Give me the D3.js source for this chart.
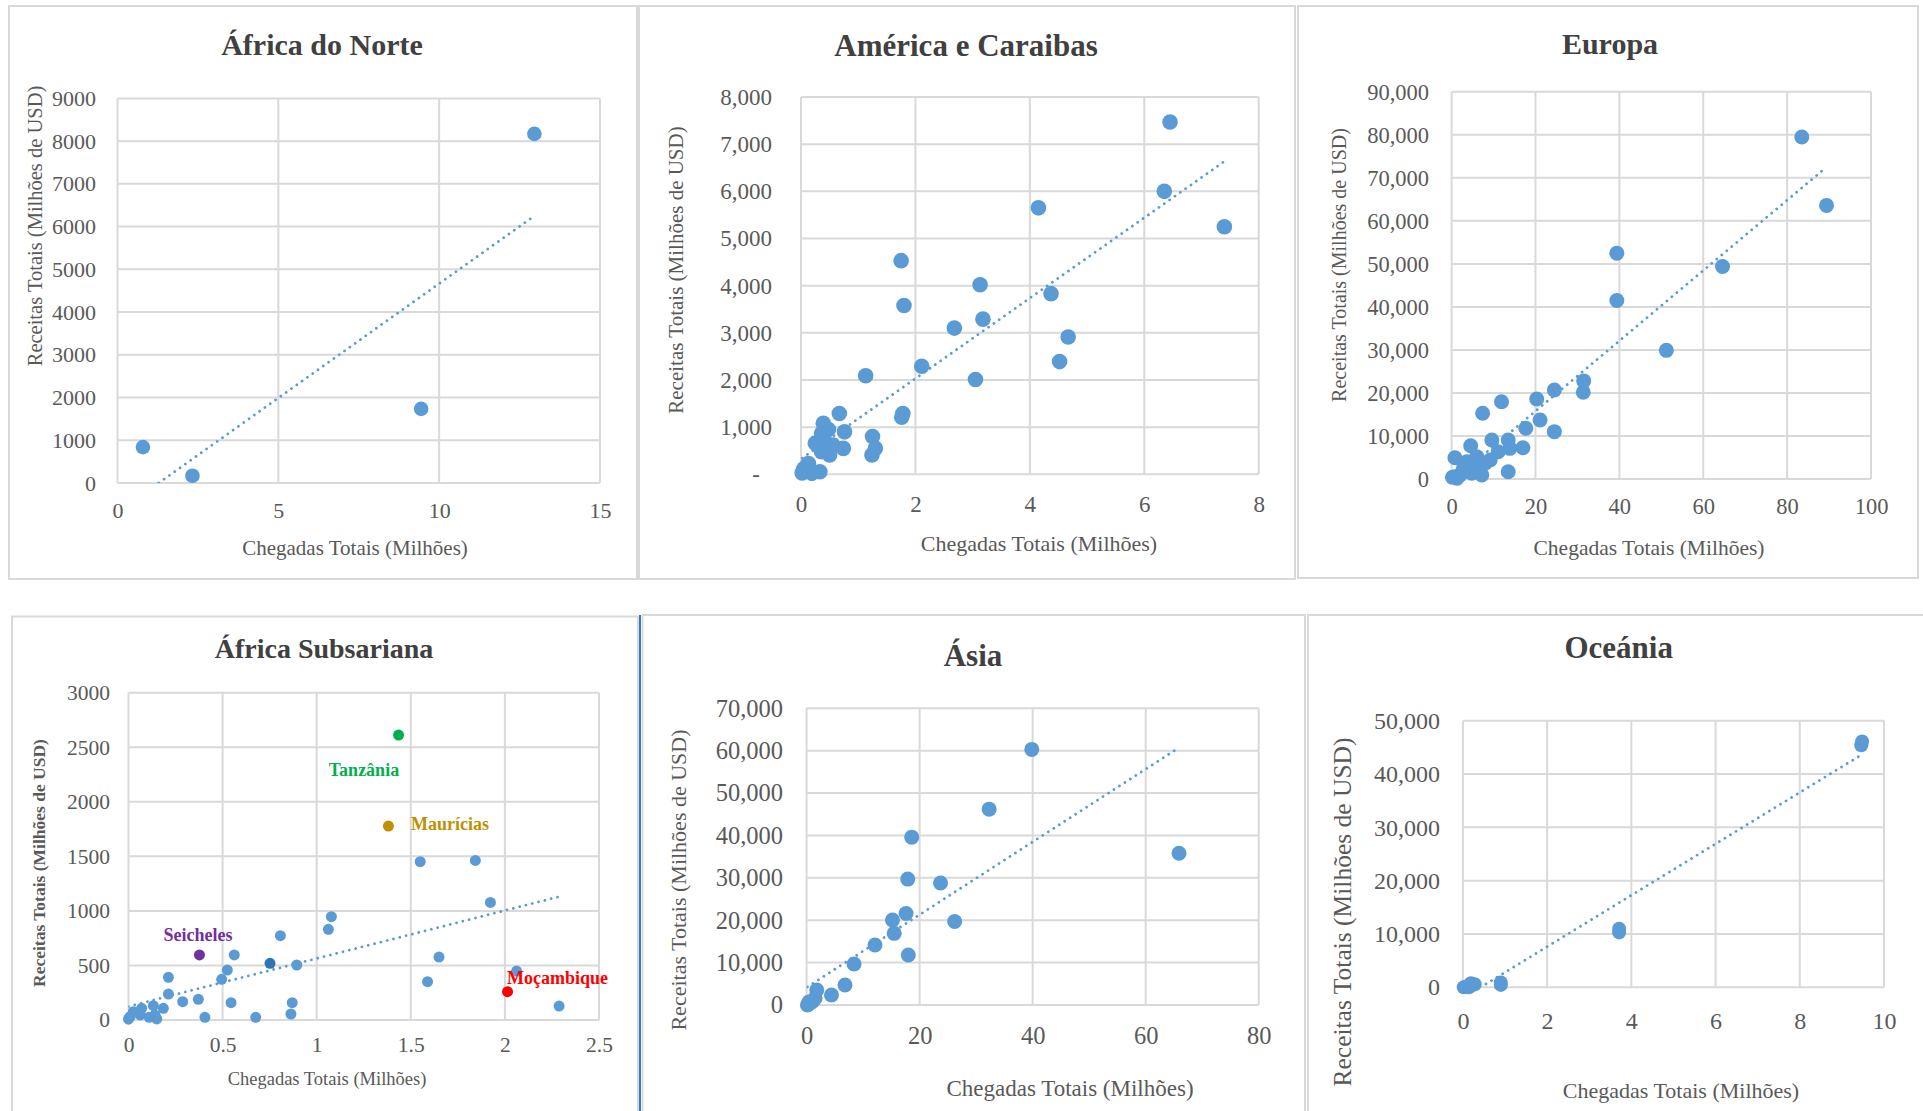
<!DOCTYPE html>
<html>
<head>
<meta charset="utf-8">
<style>
  html, body { margin: 0; padding: 0; background: #fff; overflow: hidden; }
  svg { display: block; font-family: "Liberation Serif", "Times New Roman", serif; }
  .frame { fill: #fff; stroke: #d9d9d9; stroke-width: 2px; }
  .grid line { stroke: #d9d9d9; stroke-width: 2px; }
  .trend { fill: none; stroke: #5b9bd5; stroke-width: 2.8px; stroke-linecap: round; stroke-dasharray: 0.01 6.5; }
</style>
</head>
<body>
<svg id="chart" width="1923" height="1111"></svg>
<script src="https://d3js.org/d3.v7.min.js"></script>
<script>
// ---- data ----
const regionTitles = ["África do Norte", "América e Caraibas", "Europa", "África Subsariana", "Ásia", "Oceánia"];
const xTitleText = "Chegadas Totais (Milhões)";
const yTitleText = "Receitas Totais (Milhões de USD)";

const norteXTicks = [0, 5, 10, 15];
const norteYTicks = [0, 1000, 2000, 3000, 4000, 5000, 6000, 7000, 8000, 9000];
const norteData = [[0.79, 840], [2.33, 170], [9.44, 1735], [12.96, 8170]];

const americaXTicks = [0, 2, 4, 6, 8];
const americaYTicks = [0, 1000, 2000, 3000, 4000, 5000, 6000, 7000, 8000];
const americaData = [
  [6.45, 7470], [6.35, 6000], [7.40, 5250], [4.15, 5650], [1.75, 4530], [3.13, 4020],
  [4.37, 3830], [1.80, 3580], [3.18, 3290], [2.68, 3100], [4.67, 2910], [4.52, 2390],
  [2.11, 2290], [1.13, 2090], [3.05, 2010], [1.78, 1290], [1.76, 1210],
  [0.67, 1290], [0.39, 1080], [0.76, 900], [0.36, 870], [0.25, 660], [0.42, 690],
  [0.36, 480], [0.74, 550], [0.56, 620], [0.50, 410], [1.25, 800], [1.30, 550],
  [1.24, 410], [0.02, 30], [0.13, 230], [0.33, 55], [0.19, 20], [0.05, 120], [0.48, 950]
];

const europaXTicks = [0, 20, 40, 60, 80, 100];
const europaYTicks = [0, 10000, 20000, 30000, 40000, 50000, 60000, 70000, 80000, 90000];
const europaData = [
  [83.5, 79500], [89.4, 63600], [39.4, 52500], [64.6, 49400], [39.4, 41500], [51.2, 29900],
  [31.5, 22800], [31.4, 20150], [24.5, 20680], [20.3, 18590], [11.9, 17965], [7.4, 15270],
  [21.1, 13710], [17.7, 11780], [24.5, 11000], [9.6, 9060], [13.5, 9060], [4.55, 7740],
  [13.9, 7130], [17.0, 7280], [11.1, 6350], [9.2, 4420], [0.8, 4950], [6.0, 5190],
  [3.6, 4020], [13.5, 1700], [7.2, 930], [0.8, 540], [2.8, 2490], [5.2, 2860],
  [6.4, 2090], [2.0, 930], [4.8, 1320], [8.0, 3650], [0.2, 400], [1.3, 200]
];

const subsaharaXTicks = [0, 0.5, 1, 1.5, 2, 2.5];
const subsaharaYTicks = [0, 500, 1000, 1500, 2000, 2500, 3000];
const subsaharaData = [
  [1.550, 1451], [1.843, 1463], [1.923, 1078], [2.062, 449], [2.288, 128], [1.650, 577],
  [1.589, 351], [1.078, 947], [1.062, 831], [0.807, 773], [0.562, 596], [0.894, 504],
  [0.525, 458], [0.495, 373], [0.212, 391], [0.212, 238], [0.288, 168], [0.371, 190],
  [0.545, 159], [0.870, 159], [0.863, 55], [0.676, 25], [0.406, 25], [0.185, 107],
  [0.132, 131], [0.141, 46], [0.070, 107], [0.026, 76], [0.008, 30], [0.062, 46],
  [0.000, 8], [0.110, 25], [0.150, 10]
];
const destaqueNomes = ["Tanzânia", "Maurícias", "Seicheles", "Moçambique", ""];
const destaqueData = [[1.435, 2612], [1.381, 1778], [0.377, 596], [2.014, 260], [0.752, 520]];

const asiaXTicks = [0, 20, 40, 60, 80];
const asiaYTicks = [0, 10000, 20000, 30000, 40000, 50000, 60000, 70000];
const asiaData = [
  [39.85, 60300], [32.3, 46200], [65.9, 35800], [18.6, 39600], [17.9, 29700], [23.7, 28800],
  [17.6, 21600], [26.2, 19700], [15.2, 20050], [15.5, 16900], [12.1, 14150], [18.0, 11800],
  [8.4, 9670], [6.8, 4720], [4.4, 2360], [1.8, 3540], [1.5, 1580], [0.6, 400],
  [0.4, 700], [0.15, 0], [1.1, 900]
];

const oceaniaXTicks = [0, 2, 4, 6, 8, 10];
const oceaniaYTicks = [0, 10000, 20000, 30000, 40000, 50000];
const oceaniaData = [
  [9.48, 46100], [9.46, 45400], [3.71, 11000], [3.71, 10300], [0.90, 900], [0.90, 450],
  [0.24, 450], [0.14, 0], [0.02, 0], [0.075, 130], [0.19, 750], [0.28, 560]
];

// ---- layout (full-size pixel positions) ----
const layout = [
  { box: [9, 6, 637, 579], plot: [117.5, 98.4, 600, 483], head: [322, 55, 30], yTitle: [35, 226, 20.5], xTitle: [355, 548, 21], tick: 22, yPad: 21.5, xPad: 19.5, r: 7.3 },
  { box: [639, 6, 1295, 579], plot: [801, 97, 1258.7, 474.3], head: [966, 55.5, 31], yTitle: [676, 270, 21], xTitle: [1039, 543, 22], tick: 23, yPad: 29, xPad: 21, r: 7.8 },
  { box: [1298, 6, 1918, 578], plot: [1451.6, 91.8, 1871, 479], head: [1610, 53.7, 30], yTitle: [1339, 265, 20], xTitle: [1649, 547, 21.5], tick: 22.5, yPad: 22.5, xPad: 19.5, r: 7.5 },
  { box: [12, 616.5, 638, 1125], plot: [128.5, 692.7, 599, 1020], head: [324, 658.3, 28], yTitle: [38.8, 863, 17.5, "bold"], xTitle: [327, 1079, 18.5], tick: 21.5, yPad: 18.5, xPad: 17, r: 5.5 },
  { box: [642.5, 615, 1305, 1125], plot: [806.6, 708.3, 1258.7, 1005], head: [973, 666, 31], yTitle: [678.5, 880, 22], xTitle: [1070, 1088, 23], tick: 24.5, yPad: 23.5, xPad: 22, r: 7.5 },
  { box: [1308, 615, 1935, 1125], plot: [1462.9, 720.7, 1884, 987.3], head: [1618.7, 658.3, 31], yTitle: [1341.7, 912, 25.5], xTitle: [1681, 1090, 22], tick: 24, yPad: 23, xPad: 24.5, r: 7 }
];

// label colours / offsets for the highlighted Subsaharan countries
const destaqueCores = ["#00b050", "#bf9000", "#7030a0", "#ff0000", "#2e75b6"];
const destaqueLabelPos = [[-34.6, 35, "middle"], [22.6, -2.7, "start"], [-1.5, -20.7, "middle"], [-0.5, -14, "start"], [0, 0, "start"]];

const comma = d3.format(",");
const panels = [
  { title: regionTitles[0], data: norteData, xTicks: norteXTicks, yTicks: norteYTicks, yFmt: d3.format("d") },
  { title: regionTitles[1], data: americaData, xTicks: americaXTicks, yTicks: americaYTicks, yFmt: d => d === 0 ? "-" : comma(d), dashZero: true },
  { title: regionTitles[2], data: europaData, xTicks: europaXTicks, yTicks: europaYTicks, yFmt: comma },
  { title: regionTitles[3], data: subsaharaData, xTicks: subsaharaXTicks, yTicks: subsaharaYTicks, yFmt: d3.format("d"), extra: destaqueData },
  { title: regionTitles[4], data: asiaData, xTicks: asiaXTicks, yTicks: asiaYTicks, yFmt: comma },
  { title: regionTitles[5], data: oceaniaData, xTicks: oceaniaXTicks, yTicks: oceaniaYTicks, yFmt: comma }
].map((p, i) => Object.assign(p, layout[i]));

const svg = d3.select("#chart");
const defs = svg.append("defs");

panels.forEach(drawPanel);

// the little blue cursor bar between the lower panels
svg.append("line")
  .attr("x1", 640).attr("x2", 640)
  .attr("y1", 615).attr("y2", 1111)
  .attr("stroke", "#3a78c0")
  .attr("stroke-width", 2);

function fit(pts) {
  var mx = d3.mean(pts, d => d[0]), my = d3.mean(pts, d => d[1]);
  var sxy = d3.sum(pts, d => (d[0] - mx) * (d[1] - my));
  var sxx = d3.sum(pts, d => (d[0] - mx) * (d[0] - mx));
  var b = sxy / sxx;
  return [b, my - b * mx];
}

function drawPanel(p, i) {
  var [x0, y0, x1, y1] = p.plot;
  var x = d3.scaleLinear().domain(d3.extent(p.xTicks)).range([x0, x1]);
  var y = d3.scaleLinear().domain(d3.extent(p.yTicks)).range([y1, y0]);

  var g = svg.append("g");

  g.append("rect")
    .attr("class", "frame")
    .attr("x", p.box[0]).attr("y", p.box[1])
    .attr("width", p.box[2] - p.box[0])
    .attr("height", p.box[3] - p.box[1]);

  defs.append("clipPath").attr("id", "clip" + i)
    .append("rect")
    .attr("x", x0).attr("y", y0)
    .attr("width", x1 - x0).attr("height", y1 - y0);

  // gridlines
  var grid = g.append("g").attr("class", "grid");
  grid.selectAll(".v").data(p.xTicks).join("line").attr("class", "v")
    .attr("x1", d => x(d)).attr("x2", d => x(d))
    .attr("y1", y0).attr("y2", y1);
  grid.selectAll(".h").data(p.yTicks).join("line").attr("class", "h")
    .attr("x1", x0).attr("x2", x1)
    .attr("y1", d => y(d)).attr("y2", d => y(d));

  // tick labels
  var yAxis = g.append("g")
    .attr("transform", "translate(" + x0 + ",0)")
    .call(d3.axisLeft(y).tickValues(p.yTicks).tickFormat(p.yFmt).tickSize(0).tickPadding(p.yPad));
  var xAxis = g.append("g")
    .attr("transform", "translate(0," + y1 + ")")
    .call(d3.axisBottom(x).tickValues(p.xTicks).tickFormat(d => String(d)).tickSize(0).tickPadding(p.xPad));
  [yAxis, xAxis].forEach(ax => {
    ax.select(".domain").remove();
    ax.attr("font-size", p.tick).attr("font-family", null);
    ax.selectAll("text").attr("fill", "#595959");
  });
  if (p.dashZero) {
    yAxis.selectAll(".tick text").filter(d => d === 0).attr("dx", -12);
  }

  // trendline (least squares over every point in the panel)
  var all = p.data.concat(p.extra || []);
  var [b, a] = fit(all);
  var xr = d3.extent(all, d => d[0]);
  g.append("path")
    .attr("class", "trend")
    .attr("clip-path", "url(#clip" + i + ")")
    .attr("d", d3.line()(xr.map(v => [x(v), y(a + b * v)])));

  // markers
  g.append("g").selectAll("circle").data(p.data).join("circle")
    .attr("cx", d => x(d[0]))
    .attr("cy", d => y(d[1]))
    .attr("r", p.r)
    .attr("fill", "#5b9bd5");

  if (p.extra) {
    var hl = g.append("g");
    hl.selectAll("circle").data(p.extra).join("circle")
      .attr("cx", d => x(d[0]))
      .attr("cy", d => y(d[1]))
      .attr("r", p.r)
      .attr("fill", (d, k) => destaqueCores[k]);
    hl.selectAll("text").data(p.extra).join("text")
      .attr("x", (d, k) => x(d[0]) + destaqueLabelPos[k][0])
      .attr("y", (d, k) => y(d[1]) + destaqueLabelPos[k][1])
      .attr("dy", "0.35em")
      .attr("text-anchor", (d, k) => destaqueLabelPos[k][2])
      .attr("font-size", 18)
      .attr("font-weight", "bold")
      .attr("fill", (d, k) => destaqueCores[k])
      .text((d, k) => destaqueNomes[k]);
  }

  // chart title
  g.append("text")
    .attr("x", p.head[0]).attr("y", p.head[1])
    .attr("text-anchor", "middle")
    .attr("font-size", p.head[2])
    .attr("font-weight", "bold")
    .attr("fill", "#404040")
    .text(p.title);

  // axis titles
  g.append("text")
    .attr("x", p.xTitle[0]).attr("y", p.xTitle[1])
    .attr("dy", "0.35em")
    .attr("text-anchor", "middle")
    .attr("font-size", p.xTitle[2])
    .attr("fill", "#595959")
    .text(xTitleText);

  g.append("text")
    .attr("transform", "translate(" + p.yTitle[0] + "," + p.yTitle[1] + ") rotate(-90)")
    .attr("dy", "0.35em")
    .attr("text-anchor", "middle")
    .attr("font-size", p.yTitle[2])
    .attr("font-weight", p.yTitle[3] || "normal")
    .attr("fill", "#595959")
    .text(yTitleText);
}
</script>
</body>
</html>
